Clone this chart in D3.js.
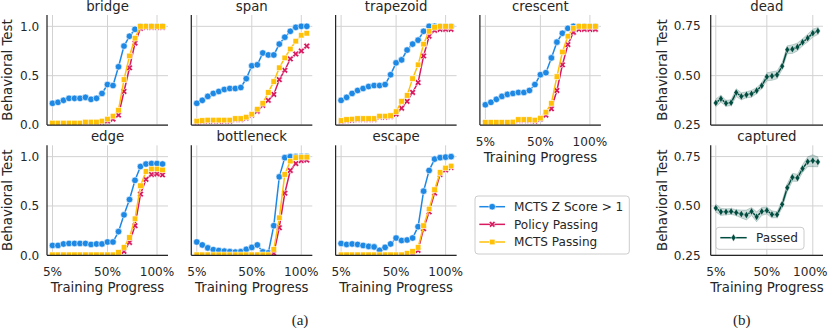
<!DOCTYPE html>
<html>
<head>
<meta charset="utf-8">
<script src="https://cdn.jsdelivr.net/npm/d3@7"></script>
<style>
  body { margin: 0; background: #fff; }
  svg { display: block; }
  text { font-family: "DejaVu Sans", sans-serif; fill: #262626; }
</style>
</head>
<body>
<svg id="chart" width="830" height="328"></svg>
<script>
// ===== DADOS =====

const xTickIdx = [0, 10, 19];
const xTickLabels = ["5%", "50%", "100%"];
const yTicksA = [0, 0.5, 1.0];
const yTickLabelsA = ["0.0", "0.5", "1.0"];
const yTicksB = [0.25, 0.5, 0.75];
const yTickLabelsB = ["0.25", "0.50", "0.75"];

const seriesNames = ["MCTS Z Score > 1", "Policy Passing", "MCTS Passing"];
const tasksA = ["bridge", "span", "trapezoid", "crescent", "edge", "bottleneck", "escape"];
const tasksB = ["dead", "captured"];

const bridgeZ = [0.22, 0.23, 0.25, 0.27, 0.27, 0.27, 0.28, 0.26, 0.27, 0.32, 0.41, 0.40, 0.59, 0.80, 0.90, 0.97, 1.0, 1.0, 1.0, 1.0, 1.0];
const bridgePolicy = [0.01, 0.01, 0.01, 0.01, 0.01, 0.01, 0.02, 0.02, 0.02, 0.03, 0.04, 0.06, 0.10, 0.34, 0.58, 0.83, 0.98, 0.99, 0.99, 0.99, 0.99];
const bridgeMcts = [0.02, 0.02, 0.02, 0.02, 0.02, 0.02, 0.03, 0.03, 0.03, 0.04, 0.06, 0.09, 0.15, 0.46, 0.70, 0.88, 1.0, 1.0, 1.0, 1.0, 1.0];

const spanZ = [0.22, 0.25, 0.29, 0.32, 0.34, 0.36, 0.37, 0.37, 0.38, 0.47, 0.60, 0.61, 0.73, 0.71, 0.71, 0.82, 0.89, 0.95, 0.99, 1.0, 1.0];
const spanPolicy = [0.03, 0.035, 0.04, 0.04, 0.04, 0.04, 0.04, 0.055, 0.055, 0.07, 0.10, 0.14, 0.20, 0.25, 0.31, 0.46, 0.555, 0.67, 0.72, 0.75, 0.80];
const spanMcts = [0.04, 0.045, 0.05, 0.05, 0.05, 0.05, 0.05, 0.065, 0.065, 0.08, 0.11, 0.16, 0.22, 0.33, 0.44, 0.58, 0.68, 0.77, 0.85, 0.91, 0.93];

const trapZ = [0.25, 0.28, 0.32, 0.35, 0.37, 0.39, 0.40, 0.40, 0.41, 0.51, 0.63, 0.66, 0.76, 0.82, 0.86, 0.95, 1.0, 1.0, 1.0, 1.0, 1.0];
const trapPolicy = [0.035, 0.045, 0.05, 0.055, 0.055, 0.055, 0.055, 0.08, 0.08, 0.085, 0.11, 0.17, 0.24, 0.33, 0.43, 0.70, 0.90, 0.96, 0.97, 0.97, 0.97];
const trapMcts = [0.045, 0.055, 0.06, 0.065, 0.065, 0.065, 0.065, 0.09, 0.09, 0.095, 0.135, 0.24, 0.30, 0.47, 0.61, 0.82, 0.95, 0.99, 1.0, 1.0, 1.0];

const crescZ = [0.205, 0.23, 0.26, 0.29, 0.31, 0.32, 0.33, 0.33, 0.35, 0.41, 0.51, 0.53, 0.68, 0.84, 0.93, 0.98, 1.0, 1.0, 1.0, 1.0, 1.0];
const crescPolicy = [0.02, 0.02, 0.02, 0.02, 0.02, 0.025, 0.045, 0.045, 0.045, 0.04, 0.06, 0.10, 0.165, 0.35, 0.61, 0.815, 0.94, 0.97, 0.97, 0.97, 0.97];
const crescMcts = [0.027, 0.027, 0.027, 0.027, 0.027, 0.03, 0.055, 0.055, 0.055, 0.05, 0.07, 0.13, 0.22, 0.49, 0.74, 0.90, 0.98, 1.0, 1.0, 1.0, 1.0];

const edgeZ = [0.10, 0.10, 0.115, 0.12, 0.12, 0.12, 0.12, 0.11, 0.115, 0.115, 0.135, 0.135, 0.24, 0.41, 0.565, 0.76, 0.90, 0.925, 0.93, 0.93, 0.925];
const edgePolicy = [0, 0, 0, 0, 0, 0, 0, 0, 0, 0, 0, 0, 0.005, 0.04, 0.13, 0.30, 0.62, 0.77, 0.82, 0.825, 0.815];
const edgeMcts = [0.005, 0.005, 0.005, 0.005, 0.005, 0.005, 0.005, 0.005, 0.005, 0.005, 0.005, 0.005, 0.03, 0.08, 0.18, 0.37, 0.705, 0.85, 0.875, 0.875, 0.865];

const bottleZ = [0.135, 0.105, 0.075, 0.057, 0.048, 0.042, 0.037, 0.032, 0.037, 0.06, 0.08, 0.105, 0.035, 0.025, 0.30, 0.795, 0.99, 1.0, 1.0, 1.0, 1.0];
const bottlePolicy = [0, 0, 0, 0, 0, 0, 0, 0, 0, 0, 0, 0, 0, 0, 0.02, 0.28, 0.63, 0.86, 0.93, 0.96, 0.965];
const bottleMcts = [0.005, 0.005, 0.005, 0.005, 0.005, 0.005, 0.005, 0.005, 0.005, 0.005, 0.005, 0.005, 0.005, 0.005, 0.06, 0.38, 0.82, 0.955, 0.99, 0.995, 0.995];

const escapeZ = [0.12, 0.11, 0.115, 0.11, 0.10, 0.09, 0.085, 0.05, 0.08, 0.115, 0.175, 0.15, 0.155, 0.175, 0.29, 0.65, 0.86, 0.975, 0.99, 0.995, 1.0];
const escapePolicy = [0, 0, 0, 0, 0, 0, 0, 0, 0, 0, 0, 0, 0, 0.02, 0.05, 0.27, 0.44, 0.63, 0.82, 0.865, 0.89];
const escapeMcts = [0.005, 0.005, 0.005, 0.005, 0.005, 0.005, 0.005, 0.005, 0.005, 0.005, 0.005, 0.005, 0.02, 0.04, 0.08, 0.30, 0.47, 0.665, 0.84, 0.885, 0.905];

const deadPassed = [0.362, 0.383, 0.36, 0.363, 0.414, 0.395, 0.403, 0.408, 0.424, 0.449, 0.494, 0.498, 0.504, 0.548, 0.631, 0.634, 0.645, 0.669, 0.69, 0.715, 0.726];
const deadCi = [0.02, 0.018, 0.015, 0.015, 0.02, 0.018, 0.015, 0.018, 0.015, 0.015, 0.02, 0.022, 0.02, 0.018, 0.02, 0.022, 0.02, 0.018, 0.02, 0.02, 0.018];
const capturedPassed = [0.489, 0.47, 0.47, 0.472, 0.466, 0.459, 0.454, 0.472, 0.445, 0.472, 0.477, 0.457, 0.456, 0.508, 0.592, 0.645, 0.642, 0.689, 0.724, 0.729, 0.723];
const capturedCi = [0.02, 0.018, 0.015, 0.015, 0.015, 0.02, 0.025, 0.02, 0.025, 0.02, 0.018, 0.018, 0.015, 0.018, 0.02, 0.02, 0.018, 0.02, 0.025, 0.03, 0.025];

// tabela montada a partir dos arrays
const tableA = {
  bridge: [bridgeZ, bridgePolicy, bridgeMcts],
  span: [spanZ, spanPolicy, spanMcts],
  trapezoid: [trapZ, trapPolicy, trapMcts],
  crescent: [crescZ, crescPolicy, crescMcts],
  edge: [edgeZ, edgePolicy, edgeMcts],
  bottleneck: [bottleZ, bottlePolicy, bottleMcts],
  escape: [escapeZ, escapePolicy, escapeMcts]
};
const tableB = {
  dead: [deadPassed, deadCi],
  captured: [capturedPassed, capturedCi]
};

// ===== ESTILO =====

const COLORS = ["#1E88E5", "#D81B60", "#FFC107"];
const GREEN = "#004D40";
const FONT = 13.3;      // titulos e rotulos dos eixos
const TICK_FONT = 12.1; // ticks e legendas

const svg = d3.select("#chart");
const defs = svg.append("defs");

const WA = 121, WB = 112.3, H = 110;
const xA = d3.scaleLinear().domain([-1, 21]).range([0, WA]);
const xB = d3.scaleLinear().domain([-1, 21]).range([0, WB]);
const yA = d3.scaleLinear().domain([0, 1.115]).range([H, 0]);
const yB = d3.scaleLinear().domain([0.25, 0.807]).range([H, 0]);

const diamondPath = "M0,-3.9L2.4,0L0,3.9L-2.4,0Z";

function drawMarker(sel, k) {
  if (k === 0) {
    sel.append("circle").attr("r", 3.3);
  } else if (k === 1) {
    sel.append("path")
      .attr("d", d3.symbol().type(d3.symbolCross).size(26)())
      .attr("transform", "rotate(45)");
  } else {
    sel.append("rect").attr("x", -2.8).attr("y", -2.8).attr("width", 5.6).attr("height", 5.6);
  }
}

function panelFrame(id, left, top, w, x, y, yTicks) {
  const g = svg.append("g").attr("transform", `translate(${left},${top})`);
  defs.append("clipPath").attr("id", "clip-" + id)
    .append("rect").attr("width", w).attr("height", H);

  // grade
  g.selectAll(".gx").data(xTickIdx).join("line")
    .attr("x1", d => x(d)).attr("x2", d => x(d))
    .attr("y1", 0).attr("y2", H)
    .attr("stroke", "#d2d2d2").attr("stroke-width", 1);
  g.selectAll(".gy").data(yTicks).join("line")
    .attr("x1", 0).attr("x2", w)
    .attr("y1", d => y(d)).attr("y2", d => y(d))
    .attr("stroke", "#d2d2d2").attr("stroke-width", 1);

  const plot = g.append("g").attr("clip-path", `url(#clip-${id})`);
  return { g, plot };
}

function spines(g, w) {
  g.append("line").attr("x1", 0).attr("x2", 0).attr("y1", 0).attr("y2", H)
    .attr("stroke", "#262626").attr("stroke-width", 1.25);
  g.append("line").attr("x1", 0).attr("x2", w).attr("y1", H).attr("y2", H)
    .attr("stroke", "#262626").attr("stroke-width", 1.25);
}

function xLabels(g, x, lastShift) {
  g.selectAll(".xt").data(xTickIdx).join("text")
    .attr("x", (d, i) => x(d) + (i === xTickIdx.length - 1 ? lastShift : 0))
    .attr("y", H + 20.5)
    .attr("text-anchor", "middle").attr("font-size", TICK_FONT)
    .text((d, i) => xTickLabels[i]);
  g.append("text")
    .attr("x", (x.range()[1]) / 2).attr("y", H + 36.5)
    .attr("text-anchor", "middle").attr("font-size", FONT)
    .text("Training Progress");
}

function yLabels(g, y, ticks, labels, pad, labelX) {
  g.selectAll(".yt").data(ticks).join("text")
    .attr("x", -pad).attr("y", d => y(d))
    .attr("dy", "0.35em")
    .attr("text-anchor", "end").attr("font-size", TICK_FONT)
    .text((d, i) => labels[i]);
  g.append("text")
    .attr("transform", `translate(${labelX},${H / 2}) rotate(-90)`)
    .attr("text-anchor", "middle").attr("font-size", FONT)
    .text("Behavioral Test");
}

// ===== GRUPO (a) =====

tasksA.forEach((task, idx) => {
  const col = idx % 4, row = Math.floor(idx / 4);
  const left = 47 + col * 144.3;
  const top = 15 + row * 130.3;
  const { g, plot } = panelFrame(task, left, top, WA, xA, yA, yTicksA);

  tableA[task].forEach((vals, k) => {
    const line = d3.line().x((d, i) => xA(i)).y(d => yA(d));
    plot.append("path").datum(vals)
      .attr("d", line).attr("fill", "none")
      .attr("stroke", COLORS[k]).attr("stroke-width", 1.5);
    plot.selectAll(null).data(vals).join("g")
      .attr("transform", (d, i) => `translate(${xA(i)},${yA(d)})`)
      .attr("fill", COLORS[k]).attr("stroke", "#fff").attr("stroke-width", 0.6)
      .each(function () { drawMarker(d3.select(this), k); });
  });

  spines(g, WA);

  g.append("text")
    .attr("x", WA / 2).attr("y", -4.4)
    .attr("text-anchor", "middle").attr("font-size", FONT)
    .text(task);

  if (row === 1 || col === 3) xLabels(g, xA, 0);
  if (col === 0) yLabels(g, yA, yTicksA, yTickLabelsA, 7.7, 11.7 - left);
});

// legenda (a)
const legA = svg.append("g");
legA.append("rect")
  .attr("x", 475).attr("y", 196).attr("width", 154.3).attr("height", 58)
  .attr("rx", 3).attr("fill", "#fff").attr("fill-opacity", 0.8)
  .attr("stroke", "#cccccc").attr("stroke-width", 1);
seriesNames.forEach((name, k) => {
  const cy = 206.7 + k * 17.65;
  legA.append("line").attr("x1", 479.3).attr("x2", 505).attr("y1", cy).attr("y2", cy)
    .attr("stroke", COLORS[k]).attr("stroke-width", 1.5);
  const m = legA.append("g").attr("transform", `translate(492.2,${cy})`)
    .attr("fill", COLORS[k]).attr("stroke", "#fff").attr("stroke-width", 0.6);
  drawMarker(m, k);
  legA.append("text").attr("x", 514).attr("y", cy).attr("dy", "0.35em")
    .attr("font-size", TICK_FONT).text(name);
});

svg.append("text").attr("x", 300).attr("y", 325.4)
  .attr("text-anchor", "middle").attr("font-size", 15)
  .style("font-family", "'Liberation Serif', 'Times New Roman', serif")
  .text("(a)");

// ===== GRUPO (b) =====

tasksB.forEach((task, row) => {
  const left = 710.7;
  const top = 15 + row * 130.3;
  const { g, plot } = panelFrame(task, left, top, WB, xB, yB, yTicksB);
  const [vals, ci] = tableB[task];

  const area = d3.area()
    .x((d, i) => xB(i))
    .y0((d, i) => yB(d - ci[i]))
    .y1((d, i) => yB(d + ci[i]));
  plot.append("path").datum(vals).attr("d", area)
    .attr("fill", GREEN).attr("fill-opacity", 0.2)
    .attr("stroke", GREEN).attr("stroke-opacity", 0.25).attr("stroke-width", 0.8);

  plot.append("path").datum(vals)
    .attr("d", d3.line().x((d, i) => xB(i)).y(d => yB(d)))
    .attr("fill", "none").attr("stroke", GREEN).attr("stroke-width", 1.5);
  plot.selectAll(null).data(vals).join("path")
    .attr("d", diamondPath)
    .attr("transform", (d, i) => `translate(${xB(i)},${yB(d)})`)
    .attr("fill", GREEN).attr("stroke", "#fff").attr("stroke-width", 0.5);

  spines(g, WB);

  g.append("text")
    .attr("x", WB / 2).attr("y", -4.4)
    .attr("text-anchor", "middle").attr("font-size", FONT)
    .text(task);

  yLabels(g, yB, yTicksB, yTickLabelsB, 10, 666.7 - left);
  if (row === 1) xLabels(g, xB, -2.5);
});

// legenda (b)
const legB = svg.append("g");
legB.append("rect")
  .attr("x", 716).attr("y", 227.3).attr("width", 88).attr("height", 22)
  .attr("rx", 3).attr("fill", "#fff").attr("fill-opacity", 0.8)
  .attr("stroke", "#cccccc").attr("stroke-width", 1);
legB.append("line").attr("x1", 720.3).attr("x2", 746.7).attr("y1", 237.7).attr("y2", 237.7)
  .attr("stroke", GREEN).attr("stroke-width", 1.5);
legB.append("path").attr("d", diamondPath)
  .attr("transform", "translate(733.5,237.7)")
  .attr("fill", GREEN).attr("stroke", "#fff").attr("stroke-width", 0.5);
legB.append("text").attr("x", 756).attr("y", 237.7).attr("dy", "0.35em")
  .attr("font-size", TICK_FONT).text("Passed");

svg.append("text").attr("x", 741.7).attr("y", 325.4)
  .attr("text-anchor", "middle").attr("font-size", 15)
  .style("font-family", "'Liberation Serif', 'Times New Roman', serif")
  .text("(b)");
</script>
</body>
</html>
